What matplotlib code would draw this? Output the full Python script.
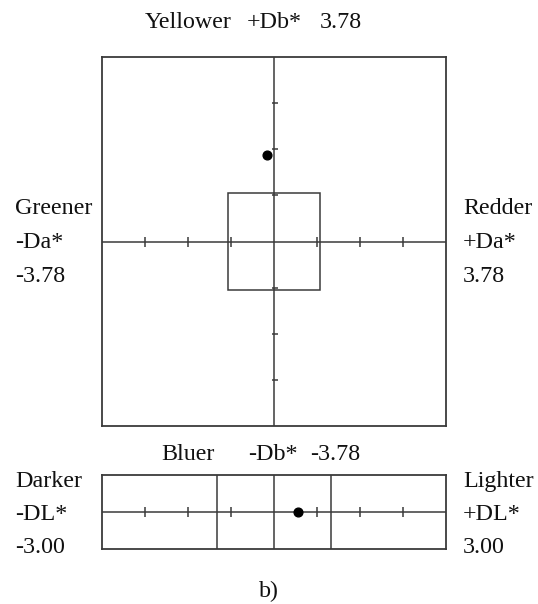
import matplotlib
matplotlib.use("Agg")
import matplotlib.pyplot as plt
from matplotlib.patches import Rectangle

# Data
ab_limit = 3.78
l_limit = 3.00
ab_ticks = [-2.835, -1.89, -0.945, 0.945, 1.89, 2.835]
l_ticks = [-2.25, -1.5, -0.75, 0.75, 1.5, 2.25]
tolerance_ab = 1.0
tolerance_l_lines = [-1.0, 0.0, 1.0]
sample_da = [-0.15]
sample_db = [1.78]
sample_dl = [0.41]

plt.rcParams['font.family'] = ['Liberation Serif', 'DejaVu Serif']
FS = 17.3
LC = '#3a3a3a'
LW = 1.1

fig = plt.figure(figsize=(5.38, 6.04), dpi=100)

# Main a*/b* plot
ax = fig.add_axes([102/538, 1-426/604, 344/538, 369/604])
ax.set_xlim(-ab_limit, ab_limit)
ax.set_ylim(-ab_limit, ab_limit)
ax.set_xticks([]); ax.set_yticks([])
for s in ax.spines.values():
    s.set_color(LC); s.set_linewidth(1.3)
ax.axhline(0, color=LC, lw=LW)
ax.axvline(0, color=LC, lw=LW)
ax.plot(ab_ticks, [0]*len(ab_ticks), ls='none', marker='|', ms=7, mew=1.1, color=LC)
ax.plot([0.03]*len(ab_ticks), ab_ticks, ls='none', marker='_', ms=5, mew=1.1, color=LC)
ax.add_patch(Rectangle((-tolerance_ab, -tolerance_ab), 2*tolerance_ab, 2*tolerance_ab,
                       fill=False, ec=LC, lw=LW))
ax.plot(sample_da, sample_db, 'o', color='black', ms=6.3)

# Lightness plot
bx = fig.add_axes([102/538, 1-549/604, 344/538, 74/604])
bx.set_xlim(-l_limit, l_limit)
bx.set_ylim(-1, 1)
bx.set_xticks([]); bx.set_yticks([])
for s in bx.spines.values():
    s.set_color(LC); s.set_linewidth(1.3)
bx.axhline(0, color=LC, lw=LW)
for v in tolerance_l_lines:
    bx.axvline(v, color=LC, lw=LW)
bx.plot(l_ticks, [0]*len(l_ticks), ls='none', marker='|', ms=7, mew=1.1, color=LC)
bx.plot(sample_dl, [0], 'o', color='black', ms=6.3)

def t(x, y, s, ha='left'):
    fig.text(x/538, 1-y/604, s, fontsize=FS, ha=ha, va='baseline', color='#111111')

t(145, 28, 'Yellower'); t(247, 28, '+Db*'); t(320, 28, '3.78')
t(15, 214, 'Greener'); t(15, 248, '-Da*'); t(15, 282, '-3.78')
t(463, 214, 'Redder'); t(463, 248, '+Da*'); t(463, 282, '3.78')
t(161, 460, 'Bluer'); t(248, 460, '-Db*'); t(310, 460, '-3.78')
t(15, 487, 'Darker'); t(15, 520, '-DL*'); t(15, 553, '-3.00')
t(463, 487, 'Lighter'); t(463, 520, '+DL*'); t(463, 553, '3.00')
t(269, 597, 'b)', ha='center')

fig.savefig('out.png', dpi=100)
